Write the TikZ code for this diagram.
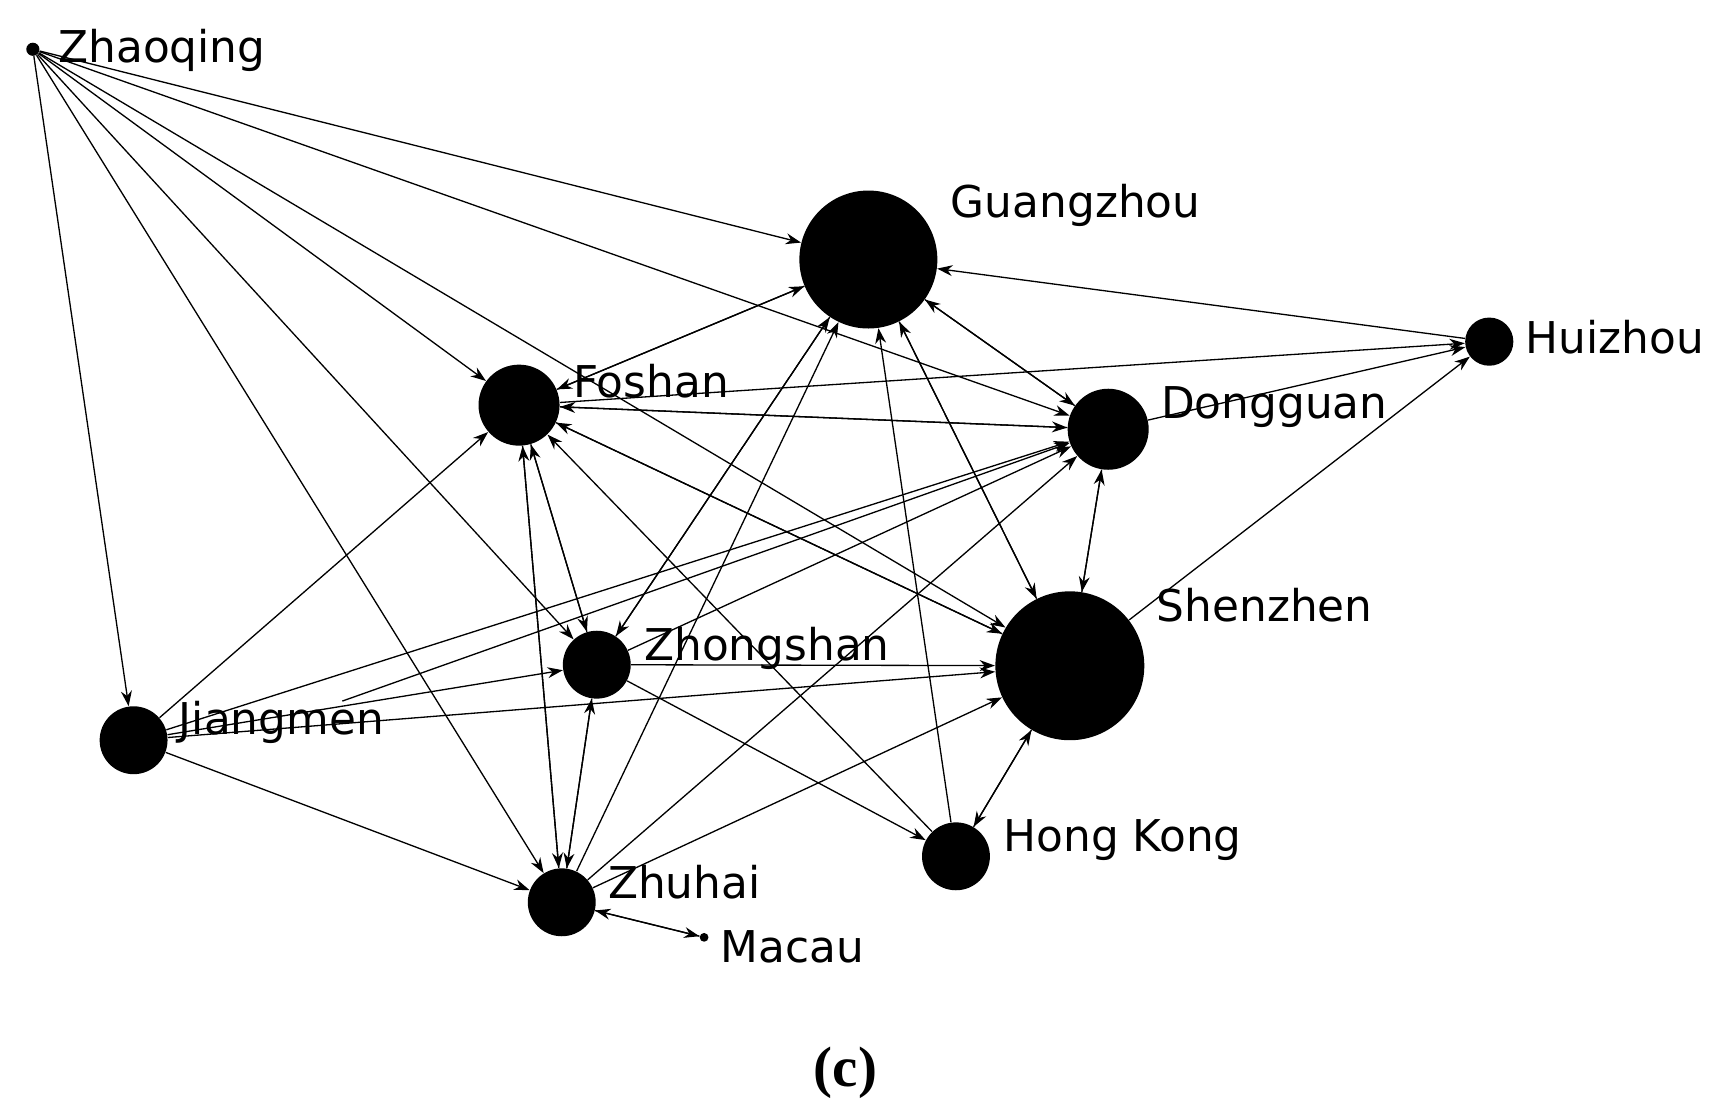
\documentclass[tikz,border=0pt]{standalone}
\usepackage{fontspec}
\setmainfont{DejaVu Sans}
\newfontfamily\capfont{Liberation Serif}
\usetikzlibrary{arrows.meta}
\begin{document}
\begin{tikzpicture}[x=0.5pt,y=-0.5pt,
  v/.style={circle,fill=black,inner sep=0pt},
  lab/.style={anchor=west,inner sep=0pt,font=\fontsize{20}{22}\selectfont},
  e/.style={-{Stealth[length=7pt,width=5pt]},line width=0.6pt}]
\useasboundingbox (0,0) rectangle (1568,1021);
\node[v,minimum size=6pt] (zq) at (30,45) {};
\node[v,minimum size=63pt] (gz) at (793,237) {};
\node[v,minimum size=22pt] (hz) at (1360,312) {};
\node[v,minimum size=37pt] (fs) at (474,370) {};
\node[v,minimum size=37pt] (dg) at (1012,392) {};
\node[v,minimum size=68pt] (sz) at (977,608) {};
\node[v,minimum size=31pt] (zs) at (545,607) {};
\node[v,minimum size=31pt] (jm) at (122,676) {};
\node[v,minimum size=31pt] (hk) at (873,782) {};
\node[v,minimum size=31pt] (zh) at (513,824) {};
\node[v,minimum size=4pt] (mc) at (643,856) {};
\node[lab] (lzq) at (53,46) {Zhaoqing};
\node[lab] (lgz) at (868,188) {Guangzhou};
\node[lab] (lhz) at (1393,308) {Huizhou};
\node[lab] (lfs) at (523,348) {Foshan};
\node[lab] (ldg) at (1060,372) {Dongguan};
\node[lab] (lsz) at (1056,553) {Shenzhen};
\node[lab] (lzs) at (588,592) {Zhongshan};
\node[lab] (ljm) at (163,660) {Jiangmen};
\node[lab] (lhk) at (916,767) {Hong Kong};
\node[lab] (lzh) at (555,806) {Zhuhai};
\node[lab] (lmc) at (658,865) {Macau};
\node[font=\fontsize{26}{28}\selectfont\capfont\bfseries] (cap) at (772,980) {(c)};
\foreach \a/\b in {zq/gz,zq/fs,zq/jm,zq/zs,zq/zh,zq/sz,zq/dg,
 fs/gz,gz/fs,fs/dg,fs/sz,fs/hz,fs/zs,zs/fs,fs/zh,zh/fs,jm/fs,jm/dg,ljm/dg,jm/sz,jm/zs,jm/zh,
 zs/gz,gz/zs,zs/sz,zs/dg,zs/zh,zh/zs,zs/hk,gz/dg,dg/gz,gz/sz,sz/gz,hk/gz,hz/gz,dg/hz,sz/hz,
 dg/sz,sz/dg,sz/hk,hk/sz,zh/sz,zh/dg,zh/gz,mc/zh,zh/mc,hk/fs,sz/fs,dg/fs}
  \draw[e] (\a) -- (\b);
\end{tikzpicture}
\end{document}
